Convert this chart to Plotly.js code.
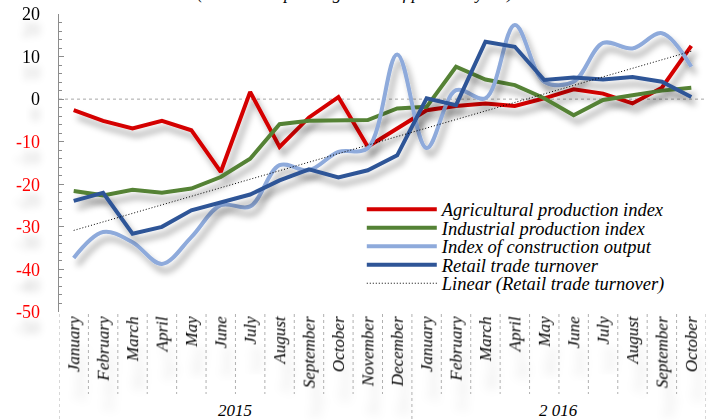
<!DOCTYPE html>
<html><head><meta charset="utf-8">
<script src="https://cdn.plot.ly/plotly-3.0.1.min.js"></script>
<style>html,body{margin:0;padding:0;background:#fff}#chart{width:710px;height:420px}</style>
</head><body><div id="chart"></div>
<script>
// ---- data ----
const months = ['January','February','March','April','May','June','July','August','September','October','November','December',
                'January','February','March','April','May','June','July','August','September','October'];
const years = ['2015','2015','2015','2015','2015','2015','2015','2015','2015','2015','2015','2015',
               '2 016','2 016','2 016','2 016','2 016','2 016','2 016','2 016','2 016','2 016'];
const agri   = [-2.6,-5.1,-6.9,-5.1,-7.3,-17.1,1.7,-11.2,-4.3,0.5,-11.2,-6.8,-2.6,-1.6,-1.0,-1.6,0.2,2.3,1.3,-1.0,2.7,12.5];
const indus  = [-21.6,-22.6,-21.3,-22.0,-21.0,-18.3,-14.0,-5.9,-5.1,-5.0,-4.9,-2.2,-1.8,7.6,4.6,3.3,0.2,-3.8,-0.2,0.9,2.0,2.7];
const constr = [-37.3,-31.2,-33.6,-38.7,-32.4,-24.9,-25.2,-15.5,-16.7,-12.4,-11.5,10.5,-11.5,2.1,0.2,17.4,4.1,4.1,13.2,11.9,15.5,7.6];
const retail = [-23.9,-22.0,-31.6,-30.0,-26.1,-24.2,-22.4,-19.1,-16.5,-18.4,-16.7,-13.2,0.2,-1.4,13.5,12.3,4.5,5.1,4.6,5.2,4.1,0.5];
const seriesNames = ['Agricultural production index','Industrial production index','Index of construction output','Retail trade turnover','Linear (Retail trade turnover)'];
const yTickVals = [-50,-40,-30,-20,-10,0,10,20];
const titleText = '(% to corresponding month of previous year)';

// ---- derived ----
const idx = months.map((m,i)=>i);
const n = retail.length;
const mx = idx.reduce((a,b)=>a+b,0)/n, my = retail.reduce((a,b)=>a+b,0)/n;
let sxy=0, sxx=0;
idx.forEach((x,i)=>{ sxy += (x-mx)*(retail[i]-my); sxx += (x-mx)*(x-mx); });
const slope = sxy/sxx, icpt = my - slope*mx;
const trend = idx.map(x => icpt + slope*x);   // least-squares trend of retail, as in the source

const yTickText = yTickVals.map(v => v < 0 ? '<span style="color:#ff0000">'+v+'</span>' : String(v));

const traces = [
  {x: idx, y: agri,   name: seriesNames[0], mode:'lines', line:{color:'#d40000', width:4}},
  {x: idx, y: indus,  name: seriesNames[1], mode:'lines', line:{color:'#548235', width:4}},
  {x: idx, y: constr, name: seriesNames[2], mode:'lines', line:{color:'#8eaadb', width:4, shape:'spline', smoothing:1}},
  {x: idx, y: retail, name: seriesNames[3], mode:'lines', line:{color:'#2f5597', width:4}},
  {x: idx, y: trend,  name: seriesNames[4], mode:'lines', line:{color:'#000000', width:1, dash:'1px,2px'}}
];

// year groups
const groups = [];
years.forEach((yv,i)=>{
  if (!groups.length || groups[groups.length-1].label !== yv) groups.push({label:yv, start:i, end:i});
  else groups[groups.length-1].end = i;
});

const plotH = 420 - 14 - 108;
const shapes = [
  {type:'line', xref:'paper', x0:0, x1:1, yref:'y', y0:0, y1:0, layer:'below', line:{color:'#a6a6a6', width:1, dash:'dot'}}
];
const boundaries = new Set();
groups.forEach(g => { boundaries.add(g.start); boundaries.add(g.end+1); });
for (let i = 0; i <= months.length; i++) {
  const isGroup = boundaries.has(i);
  shapes.push({type:'line', xref:'x', x0:i-0.5, x1:i-0.5, yref:'paper', y0:-2/plotH,
               y1: isGroup ? -108/plotH : -82/plotH,
               line:{color:'#b0b0b0', width:1, dash:'dot'}});
}
const annotations = groups.map(g => ({
  text: g.label, xref:'x', x:(g.start+g.end)/2, yref:'paper', y:-98/plotH, yanchor:'middle',
  showarrow:false, font:{size:17, style:'italic', color:'#000'}
}));

const layout = {
  width:710, height:420,
  margin:{l:59, r:4, t:14, b:108},
  paper_bgcolor:'#ffffff', plot_bgcolor:'rgba(0,0,0,0)',
  font:{family:'"Liberation Serif","Times New Roman",serif', color:'#000'},
  title:{text:titleText, x:0.5, xref:'container', y:1, yref:'container', yanchor:'bottom', pad:{b:1},
         font:{size:17.5, style:'italic', color:'#000'}},
  showlegend:true,
  xaxis:{range:[-0.5, months.length-0.5], tickmode:'array', tickvals:idx, ticktext:months, tickangle:-90,
         tickfont:{size:17, style:'italic'}, showgrid:false, zeroline:false, showline:false, ticks:''},
  yaxis:{range:[-50,20], tickmode:'array', tickvals:yTickVals, ticktext:yTickText, showgrid:false, zeroline:false,
         showline:true, linecolor:'#8c8c8c', linewidth:1.5, ticks:'inside', ticklen:5, tickcolor:'#8c8c8c',
         minor:{tickmode:'linear', tick0:0, dtick:2, ticks:'inside', ticklen:3, tickcolor:'#8c8c8c', showgrid:false},
         tickfont:{size:18}, ticklabelstandoff:14},
  legend:{x:0.468, y:0.407, xanchor:'left', yanchor:'top', bgcolor:'rgba(0,0,0,0)', borderwidth:0,
          font:{size:18.5, style:'italic', color:'#000'}, itemwidth:70, tracegroupgap:0},
  shapes: shapes,
  annotations: annotations
};

const gd = document.getElementById('chart');
Plotly.newPlot(gd, traces, layout, {staticPlot:true, displayModeBar:false}).then(()=>{
  const ns = 'http://www.w3.org/2000/svg';
  const svg = gd.querySelector('svg.main-svg');
  const defs = document.createElementNS(ns, 'defs');
  defs.innerHTML =
    '<filter id="lineShadow" x="-20%" y="-30%" width="140%" height="170%">' +
      '<feDropShadow dx="4" dy="7" stdDeviation="3" flood-color="#000" flood-opacity="0.35"/></filter>' +
    '<filter id="ylabShadow" x="-50%" y="-100%" width="200%" height="400%">' +
      '<feDropShadow dx="0" dy="16" stdDeviation="3.5" flood-color="#000" flood-opacity="0.22"/></filter>' +
    '<filter id="xlabShadow" x="-100%" y="-100%" width="300%" height="300%">' +
      '<feDropShadow dx="-30" dy="6" stdDeviation="5" flood-color="#000" flood-opacity="0.12"/></filter>';
  svg.insertBefore(defs, svg.firstChild);
  gd.querySelectorAll('.scatterlayer .trace').forEach((g,i)=>{ if (i < 4) g.setAttribute('filter','url(#lineShadow)'); });
  gd.querySelectorAll('.ytick text').forEach(t => t.setAttribute('filter','url(#ylabShadow)'));
  gd.querySelectorAll('.xtick text').forEach(t => t.setAttribute('filter','url(#xlabShadow)'));
  // compact legend rows and longer line samples
  const items = gd.querySelectorAll('.legend .traces');
  let y0 = null, x0 = 0;
  items.forEach((g,i)=>{
    const m = /translate\(\s*([-\d.]+)[ ,]+([-\d.]+)\s*\)/.exec(g.getAttribute('transform') || '');
    if (m && y0 === null) { x0 = parseFloat(m[1]); y0 = parseFloat(m[2]); }
    if (y0 !== null) g.setAttribute('transform', 'translate(' + x0 + ',' + (y0 + i*18.5) + ')');
  });
  gd.querySelectorAll('.legend .legendlines path').forEach(p => p.setAttribute('d','M5,0h70'));
});
</script>
</body></html>
